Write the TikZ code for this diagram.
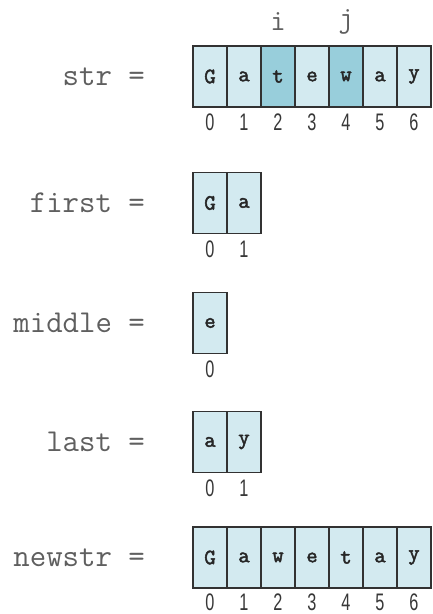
\documentclass[tikz,border=0pt]{standalone}
\usepackage{fontspec}
\newfontfamily\idxfont[FakeStretch=0.68]{Liberation Sans}
\newfontfamily\cellfont[FakeBold=2.2]{Latin Modern Mono}
\definecolor{cellfill}{RGB}{211,234,240}
\definecolor{cellhot}{RGB}{152,206,219}
\definecolor{cellborder}{RGB}{50,50,50}
\definecolor{labelcol}{RGB}{95,95,95}
\definecolor{idxcol}{RGB}{55,55,55}
\tikzset{
  cell/.style={draw=cellborder, line width=1.3bp, fill=cellfill,
    minimum width=34bp, minimum height=61bp, inner sep=0pt, outer sep=0pt,
    font=\cellfont\fontsize{22}{22}\selectfont, text=black!85},
  hot/.style={cell, fill=cellhot},
  idx/.style={font=\idxfont\fontsize{24}{24}\selectfont, text=idxcol, inner sep=0pt},
  varlabel/.style={font=\ttfamily\fontsize{32}{32}\selectfont, text=labelcol, anchor=east, inner sep=0pt},
  ptr/.style={font=\ttfamily\fontsize{30}{30}\selectfont, text=labelcol, inner sep=0pt},
}
\begin{document}
\begin{tikzpicture}[x=1bp,y=-1bp]
\useasboundingbox (0,0) rectangle (432,614);
% str
\node[varlabel] (lstr) at (145,76.5) {str =};
\foreach \c/\s [count=\k from 0] in {G/cell,a/cell,t/hot,e/cell,w/hot,a/cell,y/cell} {
  \node[\s] (s\k) at ({210+34*\k},76.5) {\c};
  \node[idx] (si\k) at ({210+34*\k},122) {\k};
}
\node[ptr] (pi) at (s2 |- 0,22) {i};
\node[ptr] (pj) at (s4 |- 0,22) {j};
% first
\node[varlabel] (lfirst) at (145,203) {first =};
\foreach \c [count=\k from 0] in {G,a} {
  \node[cell] (f\k) at ({210+34*\k},203) {\c};
  \node[idx] (fi\k) at ({210+34*\k},249) {\k};
}
% middle
\node[varlabel] (lmiddle) at (145,323) {middle =};
\node[cell] (m0) at (210,323) {e};
\node[idx] (mi0) at (210,369) {0};
% last
\node[varlabel] (llast) at (145,442) {last =};
\foreach \c [count=\k from 0] in {a,y} {
  \node[cell] (l\k) at ({210+34*\k},442) {\c};
  \node[idx] (li\k) at ({210+34*\k},488) {\k};
}
% newstr
\node[varlabel] (lnew) at (145,557.5) {newstr =};
\foreach \c [count=\k from 0] in {G,a,w,e,t,a,y} {
  \node[cell] (n\k) at ({210+34*\k},557.5) {\c};
  \node[idx] (ni\k) at ({210+34*\k},602) {\k};
}
\end{tikzpicture}
\end{document}
